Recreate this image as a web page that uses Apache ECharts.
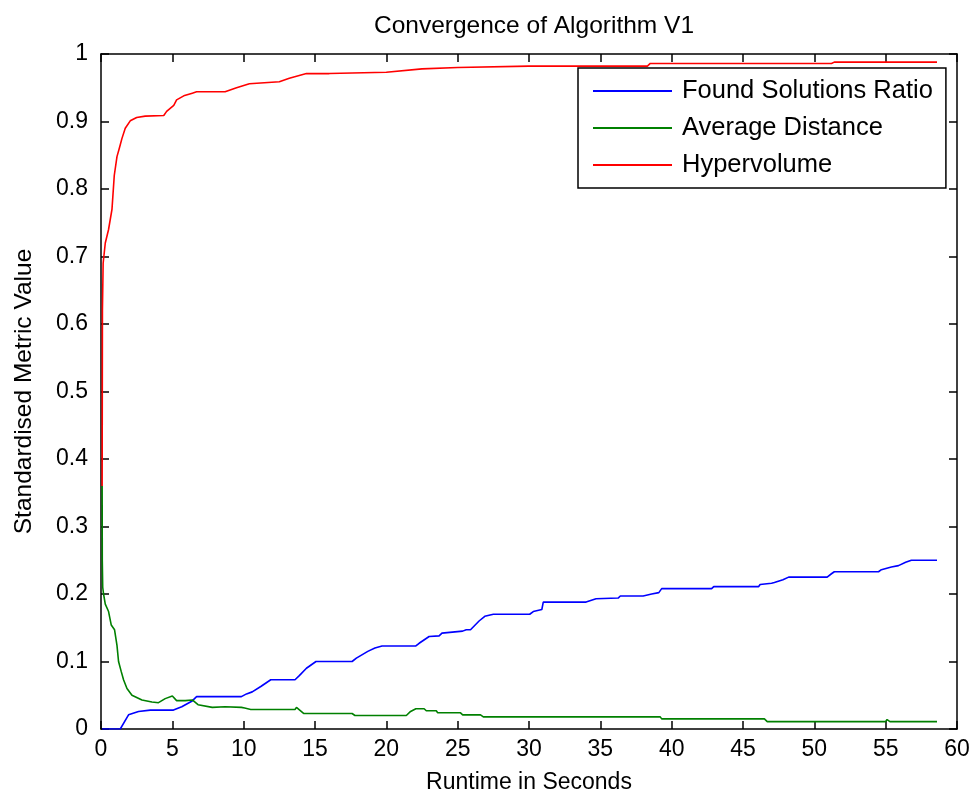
<!DOCTYPE html>
<html>
<head>
<meta charset="UTF-8">
<script src="https://cdn.jsdelivr.net/npm/echarts@6/dist/echarts.min.js"></script>
<title>Convergence of Algorithm V1</title>
</head>
<body style="margin:0;background:#fff;">
<div id="main" style="width:976px;height:800px;"></div>
<script type="text/javascript">
// data: [seconds, standardised value]
var ratioPoints = [
  [0.08,0],[1.35,0],[1.93,0.021],[2.63,0.026],[3.45,0.028],[5.08,0.028],[5.66,0.033],
  [6.36,0.041],[6.7,0.048],[9.84,0.048],[10.2,0.052],[10.6,0.055],[11.2,0.063],[11.9,0.073],
  [13.6,0.073],[13.9,0.079],[14.4,0.09],[15.07,0.1],[17.6,0.1],[17.9,0.105],[18.7,0.115],
  [19.2,0.12],[19.7,0.123],[22.07,0.123],[22.3,0.127],[23.0,0.137],[23.7,0.138],[23.9,0.142],
  [25.35,0.145],[25.6,0.147],[25.9,0.147],[26.5,0.16],[26.9,0.167],[27.5,0.17],[30.05,0.17],
  [30.3,0.174],[30.9,0.177],[31.0,0.188],[34.0,0.188],[34.1,0.19],[34.7,0.193],[34.8,0.194],
  [36.25,0.194],[36.4,0.197],[38.0,0.197],[38.1,0.199],[38.6,0.2],[39.1,0.202],[39.3,0.208],
  [42.8,0.208],[42.95,0.211],[46.1,0.211],[46.2,0.214],[47.0,0.216],[47.2,0.217],[47.8,0.221],
  [48.2,0.225],[50.9,0.225],[51.2,0.23],[51.4,0.233],[54.5,0.233],[54.7,0.236],[55.4,0.24],
  [55.9,0.242],[56.4,0.247],[56.8,0.25],[58.6,0.25]
];
var distancePoints = [
  [0.08,0.36],[0.09,0.25],[0.12,0.21],[0.18,0.2],[0.3,0.185],[0.53,0.174],[0.72,0.154],
  [0.95,0.147],[1.12,0.124],[1.23,0.1],[1.42,0.085],[1.58,0.073],[1.82,0.06],[2.17,0.05],
  [2.87,0.043],[3.57,0.04],[4.03,0.039],[4.5,0.045],[5.0,0.049],[5.3,0.042],[5.9,0.042],
  [6.4,0.043],[6.8,0.036],[7.8,0.032],[8.7,0.033],[9.84,0.032],[10.07,0.031],[10.5,0.029],
  [13.6,0.029],[13.7,0.032],[14.2,0.023],[17.6,0.023],[17.8,0.02],[21.4,0.02],[21.7,0.026],
  [22.07,0.03],[22.65,0.03],[22.8,0.027],[23.5,0.027],[23.6,0.024],[25.2,0.024],[25.35,0.021],
  [26.6,0.021],[26.8,0.018],[39.2,0.018],[39.3,0.015],[46.5,0.015],[46.7,0.011],[51.1,0.011],
  [51.2,0.013],[51.3,0.011],[55.0,0.011],[55.1,0.014],[55.3,0.011],[58.6,0.011]
];
var hyperPoints = [
  [0.08,0.36],[0.1,0.62],[0.15,0.69],[0.3,0.72],[0.53,0.74],[0.77,0.77],[0.93,0.82],
  [1.12,0.848],[1.28,0.86],[1.47,0.875],[1.7,0.89],[2.05,0.901],[2.5,0.906],[3.1,0.908],
  [4.4,0.909],[4.6,0.915],[5.1,0.924],[5.3,0.932],[5.8,0.938],[6.4,0.942],[6.7,0.944],
  [8.7,0.944],[9.5,0.95],[10.4,0.956],[12.5,0.959],[13.2,0.964],[14.4,0.971],[16,0.971],
  [20,0.973],[22.5,0.978],[25,0.98],[30,0.982],[38.3,0.982],[38.5,0.986],[51.2,0.986],
  [51.4,0.988],[58.6,0.988]
];
var seriesNames = ['Found Solutions Ratio', 'Average Distance', 'Hypervolume'];

var font = "'Liberation Sans', Arial, sans-serif";
var myChart = echarts.init(document.getElementById('main'));

function frameAxis(pos, max, interval) {
  return {
    type: 'value', position: pos, min: 0, max: max, interval: interval,
    axisLine: { show: true, onZero: false, lineStyle: { color: '#000', width: 1.5 } },
    axisTick: { show: true, inside: true, length: 8, lineStyle: { color: '#000', width: 1.5 } },
    axisLabel: { show: false },
    splitLine: { show: false }
  };
}

var option = {
  backgroundColor: '#fff',
  animation: false,
  title: {
    text: 'Convergence of Algorithm V1',
    left: 529, textAlign: 'center', top: 9,
    textStyle: { fontFamily: font, fontSize: 24.5, fontWeight: 'normal', color: '#000' }
  },
  grid: { left: 101, right: 19, top: 54, bottom: 71 },
  legend: {
    data: seriesNames,
    orient: 'vertical',
    left: 578, top: 68,
    padding: [10, 13, 10, 15],
    itemGap: 11,
    itemWidth: 79, itemHeight: 2,
    icon: 'rect',
    backgroundColor: '#fff',
    borderColor: '#000', borderWidth: 1.5,
    textStyle: { fontFamily: font, fontSize: 25.5, color: '#000', lineHeight: 26, padding: [0, 0, 0, 5] }
  },
  xAxis: [{
    type: 'value', min: 0, max: 60, interval: 5,
    name: 'Runtime in Seconds', nameLocation: 'middle', nameGap: 42,
    nameTextStyle: { fontFamily: font, fontSize: 23, color: '#000' },
    axisLine: { show: true, onZero: false, lineStyle: { color: '#000', width: 1.5 } },
    axisTick: { show: true, inside: true, length: 8, lineStyle: { color: '#000', width: 1.5 } },
    axisLabel: { fontFamily: font, fontSize: 23, color: '#000', margin: 9 },
    splitLine: { show: false }
  }, frameAxis('top', 60, 5)],
  yAxis: [{
    type: 'value', min: 0, max: 1, interval: 0.1,
    name: 'Standardised Metric Value', nameLocation: 'middle', nameGap: 64,
    nameTextStyle: { fontFamily: font, fontSize: 24.5, color: '#000' },
    axisLine: { show: true, onZero: false, lineStyle: { color: '#000', width: 1.5 } },
    axisTick: { show: true, inside: true, length: 8, lineStyle: { color: '#000', width: 1.5 } },
    axisLabel: { fontFamily: font, fontSize: 23, color: '#000', margin: 13 },
    splitLine: { show: false }
  }, frameAxis('right', 1, 0.1)],
  series: [{
    name: seriesNames[0], type: 'line', data: ratioPoints,
    symbol: 'none', color: '#0000ff', lineStyle: { width: 1.6, color: '#0000ff' }
  }, {
    name: seriesNames[1], type: 'line', data: distancePoints,
    symbol: 'none', color: '#008000', lineStyle: { width: 1.6, color: '#008000' }
  }, {
    name: seriesNames[2], type: 'line', data: hyperPoints,
    symbol: 'none', color: '#ff0000', lineStyle: { width: 1.6, color: '#ff0000' }
  }]
};
myChart.setOption(option);
</script>
</body>
</html>
